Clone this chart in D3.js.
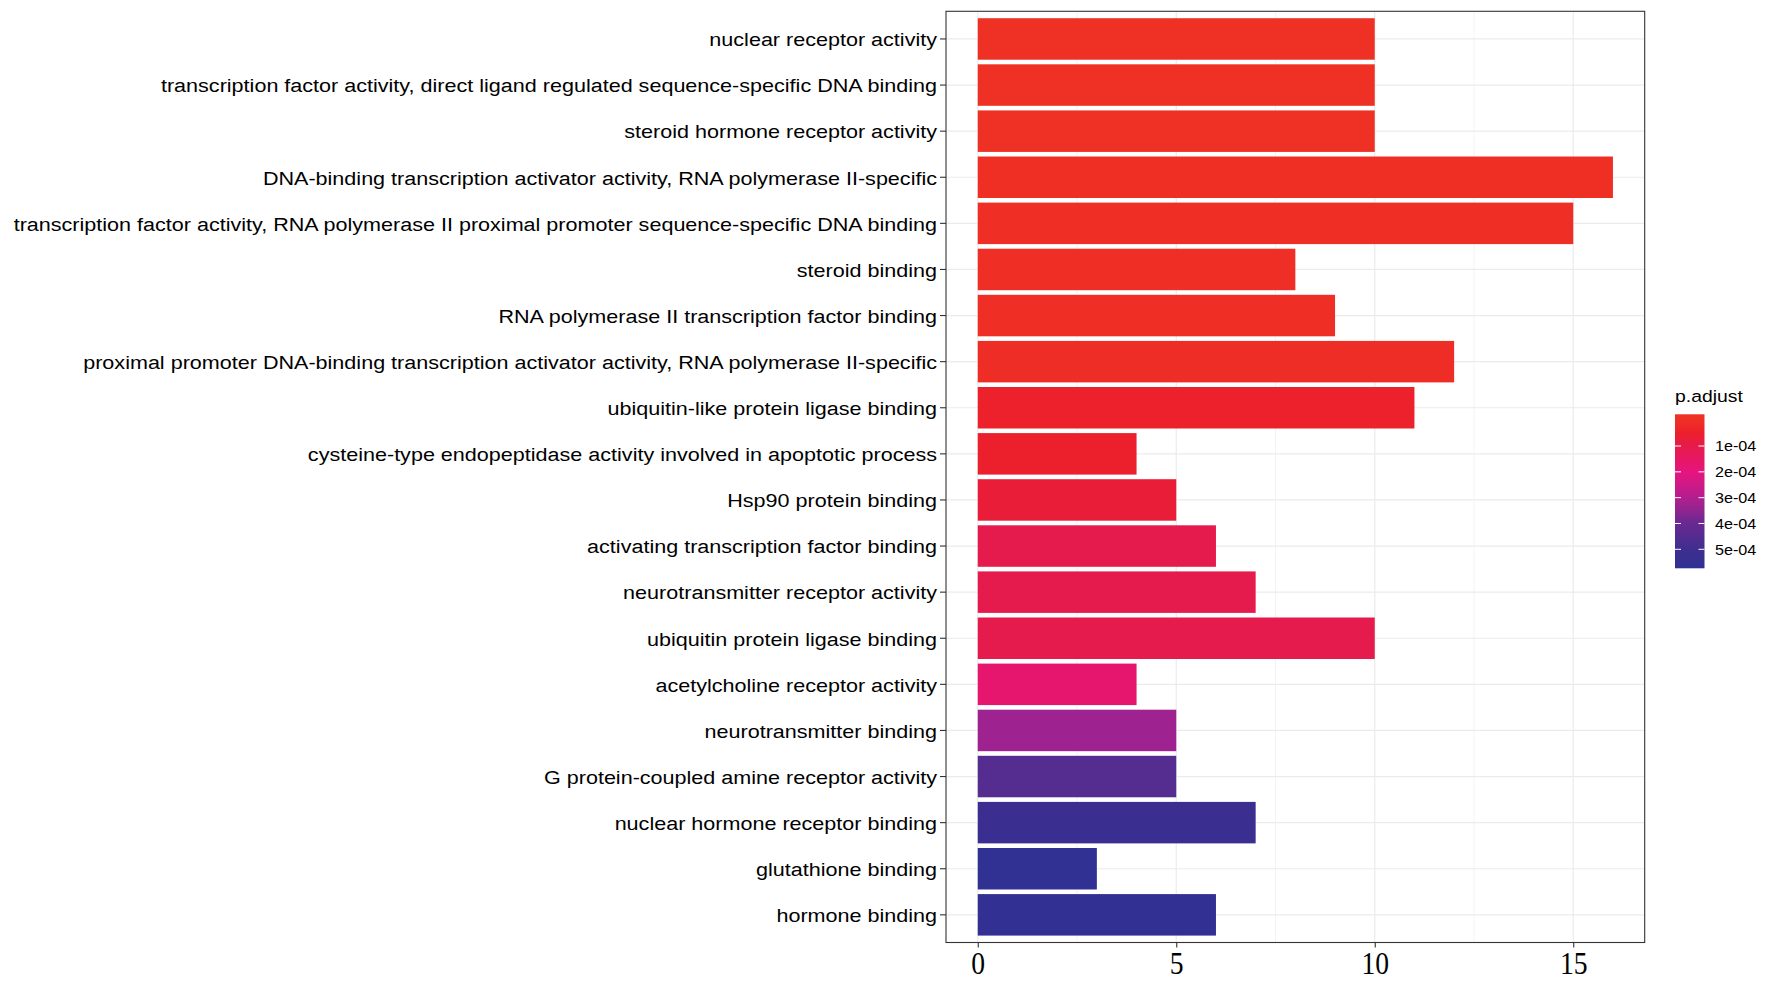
<!DOCTYPE html>
<html><head><meta charset="utf-8">
<script src="https://cdn.jsdelivr.net/npm/d3@7"></script>
<style>html,body{margin:0;padding:0;background:#fff;}</style>
</head><body>
<svg id="chart" width="1770" height="984"></svg>
<script>
const categories = [
  "nuclear receptor activity",
  "transcription factor activity, direct ligand regulated sequence-specific DNA binding",
  "steroid hormone receptor activity",
  "DNA-binding transcription activator activity, RNA polymerase II-specific",
  "transcription factor activity, RNA polymerase II proximal promoter sequence-specific DNA binding",
  "steroid binding",
  "RNA polymerase II transcription factor binding",
  "proximal promoter DNA-binding transcription activator activity, RNA polymerase II-specific",
  "ubiquitin-like protein ligase binding",
  "cysteine-type endopeptidase activity involved in apoptotic process",
  "Hsp90 protein binding",
  "activating transcription factor binding",
  "neurotransmitter receptor activity",
  "ubiquitin protein ligase binding",
  "acetylcholine receptor activity",
  "neurotransmitter binding",
  "G protein-coupled amine receptor activity",
  "nuclear hormone receptor binding",
  "glutathione binding",
  "hormone binding"
];
const counts = [10,10,10,16,15,8,9,12,11,4,5,6,7,10,4,5,5,7,3,6];
const padjust = [1.0e-6,1.0e-6,1.2e-6,2.0e-6,3.0e-6,6e-6,8e-6,1.0e-5,4.5e-5,5.0e-5,7.0e-5,1.05e-4,1.05e-4,1.05e-4,1.7e-4,3.3e-4,4.5e-4,5.2e-4,5.7e-4,5.6e-4];
const xTicks = [0,5,10,15];
const xMinorTicks = [2.5,7.5,12.5];
const legendTicks = [1e-4,2e-4,3e-4,4e-4,5e-4];
const legendTickLabels = ["1e-04","2e-04","3e-04","4e-04","5e-04"];
const colorStopValues = [0, 0.5e-4, 1e-4, 2e-4, 3e-4, 4e-4, 5e-4, 5.75e-4];
const colorStopColors = ["#EF3024","#EC1F2C","#E61B4A","#E6147E","#B41D8F","#682891","#3E2E90","#2F3192"];

const svg = d3.select("#chart");
const P = {left:946, right:1644.7, top:11.3, bottom:942.5};

const x = d3.scaleLinear().domain([-0.8, 16.8]).range([P.left, P.right]);
const y = d3.scaleBand().domain(categories).range([P.top, P.bottom]).paddingInner(0.1).paddingOuter(0.15);
const color = d3.scaleLinear().domain(colorStopValues).range(colorStopColors).interpolate(d3.interpolateLab).clamp(true);

svg.append("rect").attr("x",0).attr("y",0).attr("width",1770).attr("height",984).attr("fill","#fff");

const g = svg.append("g");
// grid
g.selectAll(".minor").data(xMinorTicks).join("line")
  .attr("x1",d=>x(d)).attr("x2",d=>x(d)).attr("y1",P.top).attr("y2",P.bottom)
  .attr("stroke","#EBEBEB").attr("stroke-width",0.6);
g.selectAll(".majx").data(xTicks).join("line")
  .attr("x1",d=>x(d)).attr("x2",d=>x(d)).attr("y1",P.top).attr("y2",P.bottom)
  .attr("stroke","#EBEBEB").attr("stroke-width",1.2);
g.selectAll(".majy").data(categories).join("line")
  .attr("x1",P.left).attr("x2",P.right).attr("y1",d=>y(d)+y.bandwidth()/2).attr("y2",d=>y(d)+y.bandwidth()/2)
  .attr("stroke","#EBEBEB").attr("stroke-width",1.2);

// bars
g.selectAll(".bar").data(categories).join("rect")
  .attr("x",x(0)).attr("y",d=>y(d))
  .attr("width",(d,i)=>x(counts[i])-x(0)).attr("height",y.bandwidth())
  .attr("fill",(d,i)=>color(padjust[i]));

// border
svg.append("rect").attr("x",P.left).attr("y",P.top).attr("width",P.right-P.left).attr("height",P.bottom-P.top)
  .attr("fill","none").attr("stroke","#333").attr("stroke-width",1.1);

// y axis
const yAxis = d3.axisLeft(y).tickSize(6).tickPadding(3);
const ya = svg.append("g").attr("transform",`translate(${P.left},0)`).call(yAxis);
ya.select(".domain").remove();
ya.selectAll(".tick line").attr("stroke","#333").attr("stroke-width",1.1);
ya.selectAll(".tick text").attr("font-family","'Liberation Sans', Arial, sans-serif").attr("font-size",18.7).attr("fill","#000").attr("x",0).attr("dy",null);

// measure and stretch horizontally
let maxW = 0;
ya.selectAll(".tick text").each(function(){ maxW = Math.max(maxW, this.getComputedTextLength()); });
const targetW = (P.left - 9) - 13.5;
const sx = targetW / maxW;
ya.selectAll(".tick text").attr("transform",`translate(${-9},7.3) scale(${sx},1)`);

// x axis
const xAxis = d3.axisBottom(x).tickValues(xTicks).tickSize(5).tickPadding(4).tickFormat(d3.format("d"));
const xa = svg.append("g").attr("transform",`translate(0,${P.bottom})`).call(xAxis);
xa.select(".domain").remove();
xa.selectAll(".tick line").attr("stroke","#333").attr("stroke-width",1.1);
xa.selectAll(".tick text").attr("font-family","'Liberation Serif', 'Times New Roman', serif").attr("font-size",31).attr("fill","#000")
  .attr("y",null).attr("dy",null).attr("transform","translate(0,31.5) scale(0.89,1)");

// legend
const L = {x:1675, w:29.5, top:414.3, bottom:568.3};
const ly = d3.scaleLinear().domain([0,5e-4]).range([420.2,549.3]);
const defs = svg.append("defs");
const grad = defs.append("linearGradient").attr("id","lg").attr("x1",0).attr("y1",0).attr("x2",0).attr("y2",1);
const nStops = 40;
d3.range(nStops+1).forEach(i=>{
  const t = i/nStops;
  const v = ly.invert(L.top + t*(L.bottom-L.top));
  grad.append("stop").attr("offset",t).attr("stop-color",color(v));
});
svg.append("rect").attr("x",L.x).attr("y",L.top).attr("width",L.w).attr("height",L.bottom-L.top).attr("fill","url(#lg)");
const lt = svg.append("g");
lt.selectAll(".lt1").data(legendTicks).join("line")
  .attr("x1",L.x).attr("x2",L.x+6).attr("y1",d=>ly(d)).attr("y2",d=>ly(d)).attr("stroke","#fff").attr("stroke-width",1);
lt.selectAll(".lt2").data(legendTicks).join("line")
  .attr("x1",L.x+L.w-6).attr("x2",L.x+L.w).attr("y1",d=>ly(d)).attr("y2",d=>ly(d)).attr("stroke","#fff").attr("stroke-width",1);
lt.selectAll("text").data(legendTicks).join("text")
  .attr("transform",d=>`translate(${L.x+L.w+10.5},${ly(d)+5.2}) scale(${sx},1)`)
  .attr("font-family","'Liberation Sans', Arial, sans-serif").attr("font-size",14).attr("fill","#000")
  .text((d,i)=>legendTickLabels[i]);
svg.append("text").attr("transform",`translate(${L.x},402) scale(${sx},1)`)
  .attr("font-family","'Liberation Sans', Arial, sans-serif").attr("font-size",16.8).attr("fill","#000")
  .text("p.adjust");
</script>
</body></html>
